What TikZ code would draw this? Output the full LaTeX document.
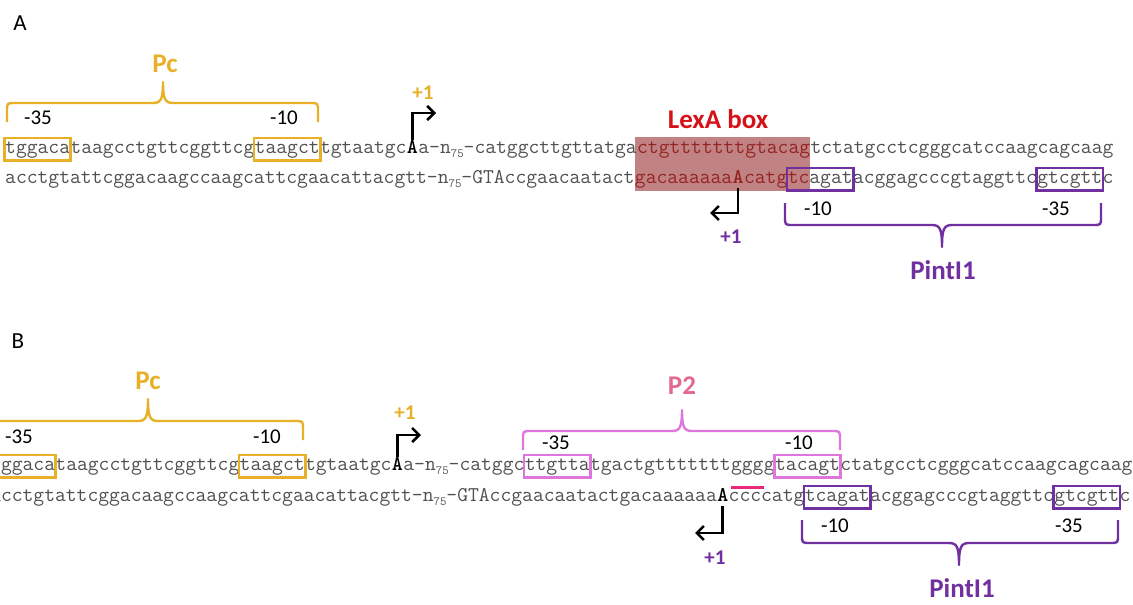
\documentclass[tikz,border=0pt]{standalone}
\usepackage{fontspec}
\setmainfont{Carlito}
\usepackage{xcolor}
\usepackage{tikz}
\usetikzlibrary{positioning,arrows.meta,fit,backgrounds}

\definecolor{pcgold}{RGB}{231,176,38}
\definecolor{intpurple}{RGB}{112,48,160}
\definecolor{ptwopink}{RGB}{226,106,142}
\definecolor{ptwobox}{RGB}{222,118,222}
\definecolor{ptwoline}{RGB}{232,40,120}
\definecolor{lexred}{RGB}{214,18,24}
\definecolor{lexshade}{RGB}{192,130,130}
\definecolor{lexdark}{RGB}{150,36,36}
\definecolor{seqgrey}{RGB}{80,80,80}
\newcommand{\nsub}{n\raisebox{-4pt}{\fontsize{12.5}{13}\selectfont 75}}

\begin{document}
\begin{tikzpicture}[x=1pt, y=-1pt,
  nt/.style={font=\ttfamily\fontsize{21}{23}\selectfont, text=seqgrey, inner sep=0pt,
    anchor=base west, text height=13pt, text depth=5pt},
  tssnt/.style={nt, font=\ttfamily\bfseries\fontsize{21}{23}\selectfont, text=black},
  boxit/.style={line width=2.6pt, inner xsep=0.5pt, inner ysep=2pt},
  lbl/.style={font=\fontsize{21}{24}\selectfont, inner ysep=1pt},
  prom/.style={font=\bfseries\fontsize{27}{30}\selectfont},
  tsslbl/.style={font=\bfseries\fontsize{21}{24}\selectfont},
  tss/.style={line width=2.6pt, -{Straight Barb[length=7pt,width=14pt]}}]
\useasboundingbox (0,0) rectangle (1133,605);

% ---------------- panel A ----------------
\node[font=\fontsize{23}{26}\selectfont] (panA) at (20,23) {A};
% top strand
\node[nt] (aT1) at (5,153) {tggaca};
\node[nt] (aT2) at (aT1.base east) {taagcctgttcggttcg};
\node[nt] (aT3) at (aT2.base east) {taagct};
\node[nt] (aT4) at (aT3.base east) {tgtaatgc};
\node[tssnt] (aTss) at (aT4.base east) {A};
\node[nt] (aT5) at (aTss.base east) {a-\nsub-catggcttgttatga};
\node[nt, text=lexdark] (aLexT) at (aT5.base east) {ctgtttttttgtacag};
\node[nt] (aT6) at (aLexT.base east) {tctatgcctcgggcatccaagcagcaag};
% bottom strand
\node[nt] (aB1) at (5,183) {acctgtattcggacaagccaagcattcgaacattacgtt-\nsub-GTAccgaacaatact};
\node[nt, text=lexdark] (aLexB1) at (aB1.base east) {gacaaaaaa};
\node[tssnt, text=lexdark] (aTssB) at (aLexB1.base east) {A};
\node[nt, text=lexdark] (aLexB2) at (aTssB.base east) {catg};
\node[nt] (aB10) at (aLexB2.base east) {\textcolor{lexdark}{tc}agat};
\node[nt] (aB2) at (aB10.base east) {acggagcccgtaggttc};
\node[nt] (aB35) at (aB2.base east) {gtcgtt};
\node[nt] (aB3) at (aB35.base east) {c};
% LexA box
\begin{scope}[on background layer]
  \node[fill=lexshade, inner xsep=0pt, inner ysep=3pt, fit=(aLexT)(aLexB1)] (aLex) {};
\end{scope}
\node[prom, text=lexred] (aLexLbl) at (718,119) {LexA box};
% promoter boxes
\node[boxit, draw=pcgold, fit=(aT1)] (aPc35) {};
\node[boxit, draw=pcgold, fit=(aT3)] (aPc10) {};
\node[boxit, draw=intpurple, fit=(aB10)] (aInt10) {};
\node[boxit, draw=intpurple, fit=(aB35)] (aInt35) {};
\node[lbl] (aPc35L) at (38,118) {-35};
\node[lbl] (aPc10L) at (284,118) {-10};
\node[lbl] (aInt10L) at (818,209) {-10};
\node[lbl] (aInt35L) at (1056,209) {-35};
\node[prom, text=pcgold] (aPc) at (165,64) {Pc};
\node[prom, text=intpurple] (aInt) at (943,270) {PintI1};
% start sites
\coordinate (aTssTip) at (436,113);
\draw[tss] (aTss.north) |- (aTssTip);
\node[tsslbl, text=pcgold] (aPlus) at (423,93) {+1};
\coordinate (aTssBTip) at (710,213);
\draw[tss] (aTssB.south) |- (aTssBTip);
\node[tsslbl, text=intpurple] (aPlusB) at (731,237) {+1};

% ---------------- panel B ----------------
\node[font=\fontsize{23}{26}\selectfont] (panB) at (18,341) {B};
% top strand
\node[nt] (bT1) at (-10,470) {tggaca};
\node[nt] (bT2) at (bT1.base east) {taagcctgttcggttcg};
\node[nt] (bT3) at (bT2.base east) {taagct};
\node[nt] (bT4) at (bT3.base east) {tgtaatgc};
\node[tssnt] (bTss) at (bT4.base east) {A};
\node[nt] (bT5) at (bTss.base east) {a-\nsub-catggc};
\node[nt] (bP35) at (bT5.base east) {ttgtta};
\node[nt] (bT6) at (bP35.base east) {tgactgttttttt};
\node[nt] (bIns) at (bT6.base east) {ggg};
\node[nt] (bT7) at (bIns.base east) {g};
\node[nt] (bP10) at (bT7.base east) {tacagt};
\node[nt] (bT8) at (bP10.base east) {ctatgcctcgggcatccaagcagcaag};
% bottom strand
\node[nt] (bB1) at (-10,501) {acctgtattcggacaagccaagcattcgaacattacgtt-\nsub-GTAccgaacaatactgacaaaaaa};
\node[tssnt] (bTssB) at (bB1.base east) {A};
\node[nt] (bB2) at (bTssB.base east) {ccccatg};
\node[nt] (bB10) at (bB2.base east) {tcagat};
\node[nt] (bB3) at (bB10.base east) {acggagcccgtaggttc};
\node[nt] (bB35) at (bB3.base east) {gtcgtt};
\node[nt] (bB4) at (bB35.base east) {c};
% promoter boxes
\node[boxit, draw=pcgold, fit=(bT1)] (bPc35) {};
\node[boxit, draw=pcgold, fit=(bT3)] (bPc10) {};
\node[boxit, draw=ptwobox, fit=(bP35)] (bTwo35) {};
\node[boxit, draw=ptwobox, fit=(bP10)] (bTwo10) {};
\node[boxit, draw=intpurple, fit=(bB10)] (bInt10) {};
\node[boxit, draw=intpurple, fit=(bB35)] (bInt35) {};
\draw[ptwoline, line width=2.6pt] ([yshift=-12pt]bIns.south west) -- ([yshift=-12pt]bIns.south east);
\node[lbl] (bPc35L) at (19,437) {-35};
\node[lbl] (bPc10L) at (267,437) {-10};
\node[lbl] (bTwo35L) at (556,443) {-35};
\node[lbl] (bTwo10L) at (799,443) {-10};
\node[lbl] (bInt10L) at (835,526) {-10};
\node[lbl] (bInt35L) at (1069,526) {-35};
\node[prom, text=pcgold] (bPc) at (148,381) {Pc};
\node[prom, text=ptwopink] (bTwo) at (682,386) {P2};
\node[prom, text=intpurple] (bInt) at (962,588) {PintI1};
% start sites
\coordinate (bTssTip) at (421,435);
\draw[tss] (bTss.north) |- (bTssTip);
\node[tsslbl, text=pcgold] (bPlus) at (405,413) {+1};
\coordinate (bTssBTip) at (695,533);
\draw[tss] (bTssB.south) |- (bTssBTip);
\node[tsslbl, text=intpurple] (bPlusB) at (715,558) {+1};

% braces: left x / right x / tip x / end y / bar y / tip y / side / colour
\foreach \xa/\xb/\xc/\ye/\yh/\yt/\s/\col in
  {7/318/163/122/103/82/1/pcgold, 785/1101/942/203/225/247/-1/intpurple,
   -8/303/148/440/421/399/1/pcgold, 523/840/682/450/431/410/1/ptwobox,
   802/1118/959/520/543/565/-1/intpurple}
  \draw[draw=\col, line width=2.4pt, line join=round]
    (\xa,\ye) -- (\xa,{\yh+8*\s}) .. controls (\xa,\yh) .. ({\xa+8},\yh)
    -- ({\xc-10},\yh) .. controls ({\xc-2},\yh) and (\xc,{\yh-4*\s}) .. (\xc,\yt)
    .. controls (\xc,{\yh-4*\s}) and ({\xc+2},\yh) .. ({\xc+10},\yh)
    -- ({\xb-8},\yh) .. controls (\xb,\yh) .. (\xb,{\yh+8*\s}) -- (\xb,\ye);
\end{tikzpicture}
\end{document}
